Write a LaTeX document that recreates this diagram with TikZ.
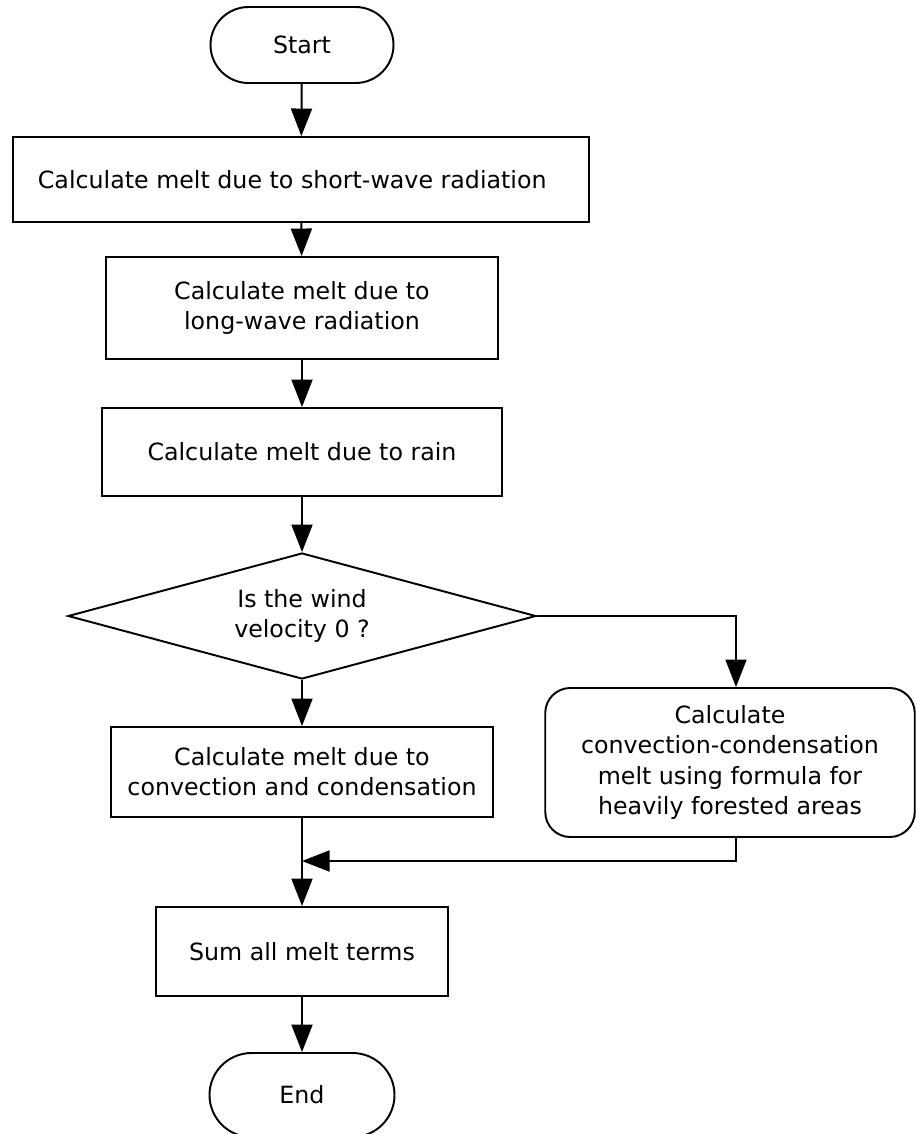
\documentclass[tikz,border=0pt]{standalone}
\usepackage{fontspec}
\setmainfont{DejaVu Sans}
\usepackage{tikz}
\usetikzlibrary{arrows.meta,shapes.geometric,shapes.misc}
\definecolor{inkLine}{HTML}{000000}
\definecolor{textPrimary}{HTML}{000000}

\begin{document}
\begin{tikzpicture}[
          every node/.style={font=\fontsize{13.5pt}{17.2pt}\selectfont,
                             text=textPrimary,align=center},
          term/.style={rounded rectangle,draw=inkLine,line width=1.1pt,
                       minimum width=3.66cm,minimum height=1.52cm,
                       inner sep=0pt},
          proc/.style={rectangle,draw=inkLine,line width=1.1pt,
                       inner sep=0pt},
          query/.style={diamond,draw=inkLine,line width=1.1pt,
                        shape aspect=3.7,inner sep=0pt,
                        minimum width=9.36cm,minimum height=2.52cm},
          alt/.style={proc,rounded corners=0.5cm},
          flow/.style={draw=inkLine,line width=1.1pt,
                       -{Triangle[width=4.2mm,length=5.5mm]}},
        ]
        \useasboundingbox[fill=white] (0,0) rectangle (18.32,-22.68);

        % main column
        \node[term] (start) at (6.04,-0.90) {Start};
        \node[proc,minimum width=11.52cm,minimum height=1.70cm]
              (swr) at (6.02,-3.59)
              {Calculate melt due to short-wave radiation\hspace*{0.35cm}};
        \node[proc,minimum width=7.84cm,minimum height=2.04cm]
              (lwr) at (6.04,-6.16)
              {Calculate melt due to\\long-wave radiation};
        \node[proc,minimum width=8.0cm,minimum height=1.76cm]
              (rain) at (6.04,-9.04) {Calculate melt due to rain};
        \node[query] (wind) at (6.04,-12.32)
              {Is the wind\\velocity 0 ?};
        \node[proc,minimum width=7.64cm,minimum height=1.80cm]
              (conv) at (6.04,-15.44)
              {Calculate melt due to\\convection and condensation};
        \node[proc,minimum width=5.84cm,minimum height=1.78cm]
              (sum) at (6.04,-19.03) {Sum all melt terms};
        \node[term,minimum width=3.70cm,minimum height=1.68cm]
              (stop) at (6.04,-21.90) {End};

        % forested-area branch
        \node[alt,minimum width=7.39cm,minimum height=2.98cm]
              (forest) at (14.60,-15.25)
              {Calculate\\convection-condensation\\melt using formula for\\heavily forested areas};
        \coordinate (drop) at (14.72,-12.32);
        \coordinate (rise) at (14.72,-16.74);
        \coordinate (join) at (6.04,-17.22);

        \foreach \a/\b in {start/swr,swr/lwr,lwr/rain,rain/wind,wind/conv,conv/sum,sum/stop}
          \draw[flow] (\a) -- (\b);
        \draw[flow] (wind.east) -| (drop |- forest.north);
        \draw[flow] (rise) |- (join);
      \end{tikzpicture}
\end{document}
